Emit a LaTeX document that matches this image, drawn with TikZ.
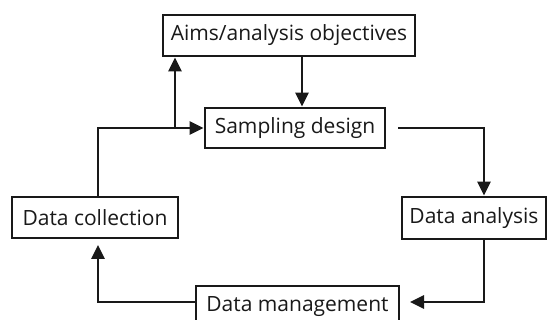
\documentclass[tikz,border=0pt]{standalone}
\usepackage{fontspec}
\setmainfont{Open Sans}
\usetikzlibrary{arrows.meta}
\begin{document}
\begin{tikzpicture}[x=1pt,y=-1pt,
  box/.style={draw=black!90,line width=2.7pt,fill=white,inner sep=0pt,font=\fontsize{21}{23}\selectfont,text=black!90},
  conn/.style={line width=2.7pt,draw=black!90,-{Triangle[length=14pt,width=13pt]}},
  plain/.style={line width=2.7pt,draw=black!90}]
\clip (0,0) rectangle (547,320);
\useasboundingbox (0,0) rectangle (547,320);
\node[box,minimum width=252pt,minimum height=41pt] (aims) at (289,35.5) {Aims/analysis objectives};
\node[box,minimum width=180pt,minimum height=40pt] (samp) at (295,128) {Sampling design};
\node[box,minimum width=166pt,minimum height=41pt] (coll) at (95,217.5) {Data collection};
\node[box,minimum width=144pt,minimum height=42pt] (anal) at (474,218) {Data analysis};
\node[box,minimum width=203pt,minimum height=41pt] (mgmt) at (297.5,306.5) {Data management};
\coordinate (sr) at (398,128);
\coordinate (mr) at (410,302);
\coordinate (cb) at (98,245);
\coordinate (j) at (175,128);
\draw[conn] (aims.south -| 302,0) -- (samp.north -| 302,0);
\draw[conn] (coll.north -| 98,0) |- (samp.west);
\draw[conn] (j) -- (aims.south -| j);
\draw[conn] (sr) -| (anal.north -| 484,0);
\draw[conn] (anal.south -| 484,0) |- (mr);
\draw[conn] (mgmt.west |- 0,302) -| (cb);
\end{tikzpicture}
\end{document}
